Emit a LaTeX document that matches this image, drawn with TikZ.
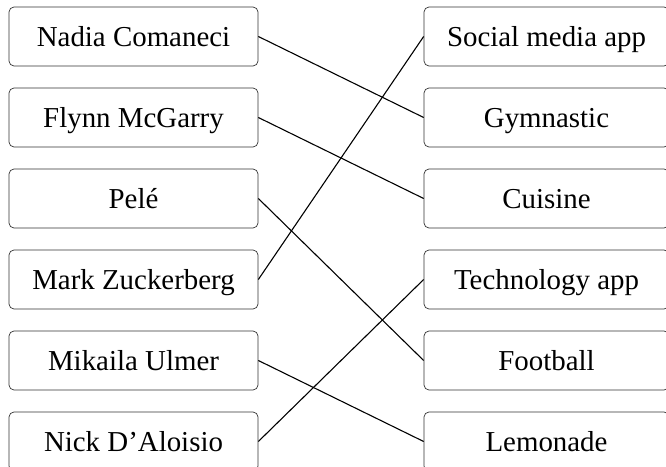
\documentclass[tikz,border=0pt]{standalone}
\usepackage{fontspec}
\setmainfont{Liberation Serif}

\begin{document}
\begin{tikzpicture}[x = 1bp, y = -1bp,
        namebox/.style = {draw = black!80, line width = 0.7pt, rounded corners = 5bp,
            minimum width = 249bp, minimum height = 59bp, inner sep = 0pt,
            text height = 20bp, text depth = 0bp, font = \fontsize{29}{34}\selectfont},
        topicbox/.style = {namebox, minimum width = 245bp},
        match/.style = {line width = 1.1pt}]
        \useasboundingbox (0, 0) rectangle (666, 467);
        % people
        \node[namebox] (nadia) at (133.5, 36.5) {Nadia Comaneci};
        \node[namebox] (flynn) at (133.5, 117.5) {Flynn McGarry};
        \node[namebox] (pele) at (133.5, 198.5) {Pelé};
        \node[namebox] (mark) at (133.5, 279.5) {Mark Zuckerberg};
        \node[namebox] (mikaila) at (133.5, 360.5) {Mikaila Ulmer};
        \node[namebox] (nick) at (133.5, 441.5) {Nick D’Aloisio};
        % topics
        \node[topicbox] (social) at (546.5, 36.5) {Social media app};
        \node[topicbox] (gym) at (546.5, 117.5) {Gymnastic};
        \node[topicbox] (cuisine) at (546.5, 198.5) {Cuisine};
        \node[topicbox] (tech) at (546.5, 279.5) {Technology app};
        \node[topicbox] (football) at (546.5, 360.5) {Football};
        \node[topicbox] (lemonade) at (546.5, 441.5) {Lemonade};
        % matches
        \draw[match] (nadia.east) -- (gym.west);
        \draw[match] (flynn.east) -- (cuisine.west);
        \draw[match] (pele.east) -- (football.west);
        \draw[match] (mark.east) -- (social.west);
        \draw[match] (mikaila.east) -- (lemonade.west);
        \draw[match] (nick.east) -- (tech.west);
    \end{tikzpicture}
\end{document}
